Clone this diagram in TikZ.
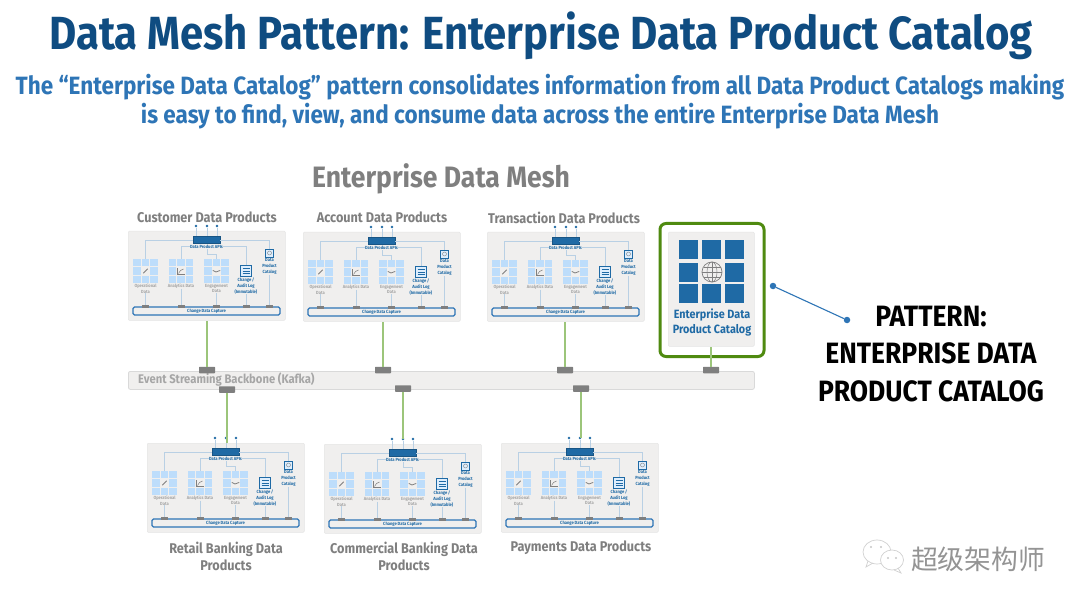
\documentclass[tikz,border=0pt]{standalone}
\usepackage{fontspec}
\setmainfont{Fira Sans}
\newfontfamily\cond[FakeStretch=0.9]{Fira Sans}
\newfontfamily\cjk{Noto Sans CJK SC}
\usetikzlibrary{calc}
\definecolor{titleblue}{HTML}{0F4C81}
\definecolor{subblue}{HTML}{2E75B6}
\definecolor{catblue}{HTML}{1F6AA5}
\definecolor{cellblue}{HTML}{BDDDFB}
\definecolor{wireblue}{HTML}{B9D0E4}
\definecolor{panelgrey}{HTML}{F0EFEE}
\definecolor{tabgrey}{HTML}{7F7F7F}
\definecolor{headgrey}{HTML}{7F7F7F}
\definecolor{meshgreen}{HTML}{4F8A10}
\definecolor{linkgreen}{HTML}{9CC57A}
\tikzset{
  x=1pt,y=-1pt,
  txt/.style={inner sep=0pt,align=center,font=\cond\bfseries},
  panelbox/.style={draw=black!10,fill=panelgrey,rounded corners=1pt,line width=.5pt,inner sep=0pt,anchor=north west},
  apibar/.style={draw=catblue!80!black,fill=catblue,minimum width=27pt,minimum height=7pt,inner sep=0pt},
  apidot/.style={circle,fill=catblue,inner sep=0pt,minimum size=2.8pt},
  wire/.style={color=wireblue,line width=.8pt},
  cdcbar/.style={draw=subblue,fill=panelgrey,line width=1.2pt,rounded corners=1.5pt,minimum width=147pt,minimum height=8pt,inner sep=0pt},
  cdctab/.style={fill=tabgrey,minimum width=7pt,minimum height=2.8pt,inner sep=0pt},
  busstub/.style={fill=tabgrey,rounded corners=.6pt,minimum width=16pt,minimum height=6.5pt,inner sep=0pt},
  bigcell/.style={fill=catblue,minimum size=19pt,inner sep=0pt},
  tiny/.style={txt,font=\cond\bfseries\fontsize{4.5}{5.6}\selectfont,text=headgrey!70},
  tinyblue/.style={txt,font=\cond\bfseries\fontsize{4.5}{5.8}\selectfont,text=catblue},
  heading/.style={txt,font=\cond\bfseries\fontsize{14.1}{17}\selectfont,text=headgrey},
  greenlink/.style={color=linkgreen,line width=1.3pt},
}
% Three-by-three data tile, centred on the given coordinate
\newcommand{\datagrid}[3]{%
  \foreach \i in {-1,0,1}{\foreach \j in {-1,0,1}{%
    \ifnum\i=0 \ifnum\j=0 \else
      \fill[cellblue] ($(#2,#3)+(8.4*\i-3.7,8.4*\j-3.7)$) rectangle +(7.4,7.4);\fi
    \else
      \fill[cellblue] ($(#2,#3)+(8.4*\i-3.7,8.4*\j-3.7)$) rectangle +(7.4,7.4);\fi
  }}%
  \coordinate (#1) at (#2,#3);
  \coordinate (#1top) at (#2,#3-12.5);
}
% One domain's data product panel: prefix, left edge, top edge
\newcommand{\productpanel}[3]{%
\begin{scope}[shift={(#2,#3)},name prefix=#1-]
  \node[panelbox,minimum width=157pt,minimum height=89pt] (panel) at (0,0) {};
  \node[apidot] (d1) at (68,-5) {};
  \node[apidot] (d2) at (79,-5) {};
  \node[apidot] (d3) at (89,-5) {};
  \foreach \d/\xx in {d1/68,d2/79,d3/89}{\draw[wire,line width=.5pt] (\d) -- (\xx,5);}
  \node[apibar] (api) at (78.5,8.5) {};
  \datagrid{op}{17.5}{40}
  \datagrid{an}{53}{40}
  \datagrid{en}{88.5}{40}
  \node[draw=catblue,fill=cellblue!50,line width=.8pt,minimum width=11pt,minimum height=11pt,inner sep=0pt] (log) at (118,40) {};
  \foreach \yy in {37.5,40,42.5}{\draw[catblue,line width=.4pt] (114.5,\yy) -- (121.5,\yy);}
  \node[draw=catblue,fill=cellblue!50,line width=.8pt,minimum size=8pt,inner sep=0pt] (cat) at (141.5,22) {};
  \draw[headgrey,line width=.4pt] (141.5,22) circle (2);
  \node[tinyblue] (apilabel) at (78.5,15.5) {Data Product APIs};
  \node[tiny] (oplabel) at (17.5,57.5) {Operational\\Data};
  \node[tiny] (anlabel) at (53,55) {Analytics Data};
  \node[tiny] (enlabel) at (88.5,57.5) {Engagement\\Data};
  \node[tinyblue] (loglabel) at (118,55) {Change /\\Audit Log\\(Immutable)};
  \node[tinyblue] (catlabel) at (141.5,35.5) {Data\\Product\\Catalog};
  \node[cdcbar] (cdc) at (78.5,80) {};
  \node[tinyblue] (cdclabel) at (78.5,80) {Change Data Capture};
  \node[cdctab] (t1) at (17.5,75.5) {};
  \node[cdctab] (t2) at (53,75.5) {};
  \node[cdctab] (t3) at (88.5,75.5) {};
  \node[cdctab] (t4) at (118,75.5) {};
  \node[cdctab] (t5) at (141.5,75.5) {};
  % fan-out from the API bar to the data stores
  \draw[wire] (api.west |- 0,9.5) -| (optop);
  \draw[wire] (apilabel.west) -| (antop);
  \draw[wire] (apilabel.east) -| (log.north);
  \draw[wire] (79.5,18) |- (88.5,23) -- (entop);
  \draw[wire] (api.east |- 0,9.5) -| (cat.north);
  \draw[wire] (oplabel.south) -- (t1.north);
  \draw[wire] (anlabel.south) -- (t2.north);
  \draw[wire] (enlabel.south) -- (t3.north);
  \draw[wire] (loglabel.south) -- (t4.north);
  \draw[wire] (catlabel.south) -- (t5.north);
  % small pictograms in the middle of each tile
  \draw[headgrey,line width=.8pt,line cap=round] (15.5,42) -- (19.5,38);
  \draw[headgrey,line width=.5pt] (49.5,37) -- (49.5,43.5) -- (56.5,43.5);
  \draw[headgrey,line width=.5pt] (50.5,42.5) -- (52.5,39.5) -- (55.5,38);
  \draw[headgrey,line width=.8pt,line cap=round] (85,39.5) -- (88,41) -- (92,39.5);
\end{scope}}
\begin{document}
\begin{tikzpicture}
\useasboundingbox (0,0) rectangle (1080,607);
\fill[white] (0,0) rectangle (1080,607);

% headings
\node[txt,text=titleblue,font=\cond\bfseries\fontsize{46.5}{50}\selectfont] (title) at (541,36) {Data Mesh Pattern: Enterprise Data Product Catalog};
\node[txt,text=subblue,font=\cond\bfseries\fontsize{25}{29}\selectfont] (subtitle) at (540,101.5) {The “Enterprise Data Catalog” pattern consolidates information from all Data Product Catalogs making\\is easy to find, view, and consume data across the entire Enterprise Data Mesh};
\node[txt,text=headgrey,font=\cond\bfseries\fontsize{29.5}{32}\selectfont] (mesh) at (441,179) {Enterprise Data Mesh};

% upper row of data product panels
\node[heading] (custhead) at (207,217) {Customer Data Products};
\node[heading] (acchead) at (382,217) {Account Data Products};
\node[heading] (txnhead) at (564,218) {Transaction Data Products};
\productpanel{cust}{128}{231}
\productpanel{acc}{303}{232}
\productpanel{txn}{487}{232}

% event backbone
\node[draw=black!15,fill=panelgrey,rounded corners=2pt,line width=.8pt,minimum width=626pt,minimum height=18pt,inner sep=0pt,anchor=north west] (backbone) at (128,371) {};
\node[txt,anchor=west,text=black!35,font=\cond\bfseries\fontsize{12.5}{15}\selectfont] (backbonelabel) at (138,380) {Event Streaming Backbone (Kafka)};
\node[busstub] (s1) at (207,370) {};
\node[busstub] (s2) at (383,370) {};
\node[busstub] (s3) at (565,370) {};
\node[busstub] (s4) at (711,370) {};
\node[busstub] (s5) at (227,389.5) {};
\node[busstub] (s6) at (403,388.5) {};
\node[busstub] (s7) at (581,388.5) {};

% lower row of data product panels
\productpanel{retail}{147}{443}
\productpanel{comm}{324}{444}
\productpanel{pay}{501}{443}
\node[heading] (retailhead) at (226,556.5) {Retail Banking Data\\Products};
\node[heading] (commhead) at (404,556.5) {Commercial Banking Data\\Products};
\node[heading] (payhead) at (581,548) {Payments Data Products};

% enterprise catalog tile
\node[draw=meshgreen,line width=3pt,rounded corners=6pt,minimum width=104pt,minimum height=133pt,inner sep=0pt,anchor=north west,fill=white] (catframe) at (658.5,222) {};
\node[panelbox,minimum width=86pt,minimum height=114pt] (catpanel) at (668,232) {};
\foreach \n/\xx/\yy in {a/688.5/249.5,b/711.5/249.5,c/734.5/249.5,d/688.5/272.5,f/734.5/272.5,g/688.5/293.5,h/711.5/293.5,i/734.5/293.5}{
  \node[bigcell] (cell\n) at (\xx,\yy) {};
}
\node[circle,draw=headgrey,line width=.7pt,minimum size=20pt,inner sep=0pt] (globe) at (712,272) {};
\draw[headgrey,line width=.5pt] (globe.north) -- (globe.south) (globe.west) -- (globe.east);
\draw[headgrey,line width=.5pt] (712,272) ellipse (5 and 10);
\draw[headgrey,line width=.5pt] (703.5,267) -- (720.5,267) (703.5,277) -- (720.5,277);
\node[txt,text=catblue,font=\cond\bfseries\fontsize{12}{15}\selectfont] (catname) at (712,322.5) {Enterprise Data\\Product Catalog};

% green links to the backbone
\draw[greenlink] (s1.north) -- (s1.north |- cust-panel.south);
\draw[greenlink] (s2.north) -- (s2.north |- acc-panel.south);
\draw[greenlink] (s3.north) -- (s3.north |- txn-panel.south);
\draw[greenlink] (s4.north) -- (s4.north |- catpanel.south);
\draw[greenlink] (s5.south) -- (s5.south |- retail-panel.north);
\draw[greenlink] (s6.south) -- (s6.south |- comm-d2);
\draw[greenlink] (s7.south) -- (s7.south |- pay-d2);

% callout
\node[apidot,fill=subblue,minimum size=6.5pt] (calla) at (773,286) {};
\node[apidot,fill=subblue,minimum size=6.5pt] (callb) at (847,320) {};
\draw[subblue,line width=1.1pt] (calla) -- (callb);
\node[txt,text=black,font=\cond\bfseries\fontsize{29.4}{37.5}\selectfont] (pattern) at (931,354) {PATTERN:\\ENTERPRISE DATA\\PRODUCT CATALOG};

% account mark
\draw[black!18,line width=.7pt,fill=white] (877,552) ellipse (14 and 12);
\draw[black!18,line width=.7pt] (868,561) -- (866,567) -- (873,563);
\draw[black!18,line width=.7pt,fill=white] (892,560) ellipse (11.5 and 10);
\draw[black!18,line width=.7pt] (898,568) -- (901,573) -- (894,570);
\fill[black!22] (871,547) circle (1.2) (881,547) circle (1.2) (888,558) circle (1.2) (896,558) circle (1.2);
\node[txt,font=\cjk\fontsize{26.8}{30}\selectfont,text=black!42] (mark) at (978,559) {超级架构师};
\end{tikzpicture}
\end{document}
